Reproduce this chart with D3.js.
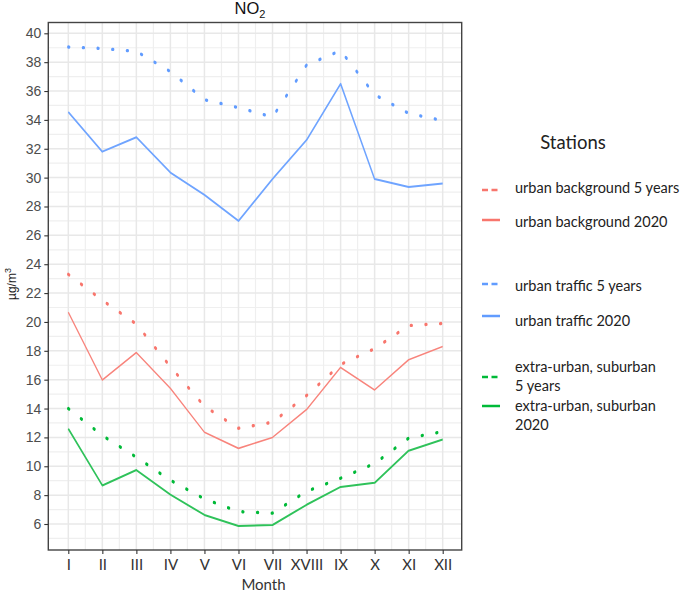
<!DOCTYPE html>
<html>
<head>
<meta charset="utf-8">
<script src="https://cdn.jsdelivr.net/npm/d3@7"></script>
<style>
  html, body { margin: 0; padding: 0; background: #fff; }
  svg { display: block; }
</style>
</head>
<body>
<svg id="chart" width="685" height="592"></svg>
<script>
// ---- data ----
const months = [1,2,3,4,5,6,7,8,9,10,11,12];
const monthLabels = ["I","II","III","IV","V","VI","VII","XVIII","IX","X","XI","XII"];
const yTicks = [6,8,10,12,14,16,18,20,22,24,26,28,30,32,34,36,38,40];

const urbanBackground5y   = [23.3, 21.5, 19.85, 16.9, 14.15, 12.63, 13.05, 14.9, 17.05, 18.15, 19.75, 19.9];
const urbanBackground2020 = [20.67, 15.98, 17.88, 15.4, 12.36, 11.24, 12.0, 13.93, 16.85, 15.29, 17.38, 18.3];
const urbanTraffic5y      = [39.05, 38.95, 38.75, 37.35, 35.4, 34.85, 34.2, 37.8, 38.8, 35.75, 34.45, 33.95];
const urbanTraffic2020    = [34.55, 31.8, 32.8, 30.35, 28.8, 27.0, 29.9, 32.6, 36.5, 29.9, 29.35, 29.6];
const extraUrban5y        = [14.0, 12.13, 10.63, 9.03, 7.74, 6.86, 6.75, 8.26, 9.17, 10.19, 11.95, 12.4];
const extraUrban2020      = [12.6, 8.67, 9.74, 8.03, 6.63, 5.86, 5.93, 7.33, 8.57, 8.85, 11.08, 11.85];

const seriesNames  = ["urban background 5 years","urban background 2020","urban traffic 5 years","urban traffic 2020","extra-urban, suburban 5 years","extra-urban, suburban 2020"];
const seriesValues = [urbanBackground5y, urbanBackground2020, urbanTraffic5y, urbanTraffic2020, extraUrban5y, extraUrban2020];
const seriesColors = ["#F8766D","#F8766D","#619CFF","#619CFF","#00BA38","#00BA38"];
const lineColors   = ["#F8766D","#F8847C","#619CFF","#6FA4FF","#00BA38","#2FC25A"];
const seriesDotted = [true,false,true,false,true,false];
const seriesWidth  = [3.3,1.6,3.3,2,3.3,2];

// ---- layout ----
const svg = d3.select("#chart");
const P = {left: 48.3, right: 461.7, top: 22.5, bottom: 550};
const SQ = 0.73; // horizontal squeeze of the original picture

const x = d3.scaleLinear().domain([1,12]).range([68.3, 442.7]);
const xWide = d3.scaleLinear().domain([1,12]).range([68.3/SQ, 442.7/SQ]);
const y = d3.scaleLinear().domain([6,40]).range([524, 33.3]);

// grid
const grid = svg.append("g");
const yMinor = d3.range(5, 41, 2);
const yMajor = d3.range(6, 41, 2);
const xMinor = d3.range(1.5, 12, 1);
grid.selectAll(".ym").data(yMinor).join("line")
  .attr("x1", P.left).attr("x2", P.right).attr("y1", d=>y(d)).attr("y2", d=>y(d))
  .attr("stroke", "#EFEFEF").attr("stroke-width", 1.2);
grid.selectAll(".xm").data(xMinor).join("line")
  .attr("y1", P.top).attr("y2", P.bottom).attr("x1", d=>x(d)).attr("x2", d=>x(d))
  .attr("stroke", "#EFEFEF").attr("stroke-width", 1.2);
grid.selectAll(".yM").data(yMajor).join("line")
  .attr("x1", P.left).attr("x2", P.right).attr("y1", d=>y(d)).attr("y2", d=>y(d))
  .attr("stroke", "#E8E8E8").attr("stroke-width", 1.5);
grid.selectAll(".xM").data(months).join("line")
  .attr("y1", P.top).attr("y2", P.bottom).attr("x1", d=>x(d)).attr("x2", d=>x(d))
  .attr("stroke", "#E8E8E8").attr("stroke-width", 1.5);

// lines
const lineG = svg.append("g").attr("transform", `scale(${SQ},1)`);
seriesValues.forEach((vals, i) => {
  const data = months.map((m, j) => [m, vals[j]]);
  const gen = d3.line().x(d => xWide(d[0])).y(d => y(d[1]));
  const p = lineG.append("path").datum(data)
    .attr("d", gen).attr("fill", "none")
    .attr("stroke", lineColors[i])
    .attr("stroke-width", seriesWidth[i])
    .attr("stroke-linejoin", "round");
  if (seriesDotted[i]) p.attr("stroke-dasharray", "1.2,18.9").attr("stroke-linecap", "round");
});

// panel border
svg.append("rect").attr("x", P.left).attr("y", P.top)
  .attr("width", P.right - P.left).attr("height", P.bottom - P.top)
  .attr("fill", "none").attr("stroke", "#444").attr("stroke-width", 1.4);

// axes
const yAxis = d3.axisLeft(y).tickValues(yTicks).tickSize(4).tickPadding(3);
const yg = svg.append("g").attr("transform", `translate(${P.left},0)`).call(yAxis);
yg.select(".domain").remove();
yg.selectAll(".tick line").attr("stroke", "#333").attr("stroke-width", 1.1);
yg.selectAll(".tick text").attr("fill", "#4D4D4D")
  .style("font-family", "'Liberation Sans', Arial, sans-serif").style("font-size", "14px");

const xAxis = d3.axisBottom(x).tickValues(months).tickFormat((d,i) => monthLabels[i]).tickSize(4).tickPadding(5);
const xg = svg.append("g").attr("transform", `translate(0,${P.bottom})`).call(xAxis);
xg.select(".domain").remove();
xg.selectAll(".tick line").attr("stroke", "#333").attr("stroke-width", 1.1);
xg.selectAll(".tick text").attr("fill", "#333")
  .style("font-family", "Lato, 'Open Sans', sans-serif").style("font-size", "15px");

// titles
const title = svg.append("text").attr("x", 250).attr("y", 14).attr("text-anchor", "middle")
  .style("font-family", "'Liberation Sans', Arial, sans-serif").style("font-size", "16.5px").attr("fill", "#111");
title.append("tspan").text("NO");
title.append("tspan").text("2").attr("dy", 4).style("font-size", "11px");

svg.append("text").attr("x", 263.5).attr("y", 590).attr("text-anchor", "middle")
  .style("font-family", "Lato, 'Open Sans', sans-serif").style("font-size", "15px").attr("fill", "#333")
  .text("Month");

const yt = svg.append("text").attr("transform", "translate(15.5,284) rotate(-90)").attr("text-anchor", "middle")
  .style("font-family", "'Liberation Sans', Arial, sans-serif").style("font-size", "12px").attr("fill", "#222");
yt.append("tspan").text("µg/m");
yt.append("tspan").text("3").attr("dy", -5).style("font-size", "9px");

// legend
const legend = svg.append("g");
legend.append("text").attr("x", 573).attr("y", 149).attr("text-anchor", "middle")
  .style("font-family", "Lato, 'Open Sans', sans-serif").style("font-size", "18.5px").attr("fill", "#222")
  .text("Stations");

const legKeyY  = [190, 220, 284, 316, 377, 406];
const legLines = [["urban background 5 years"],["urban background 2020"],["urban traffic 5 years"],["urban traffic 2020"],["extra-urban, suburban","5 years"],["extra-urban, suburban","2020"]];
const legTextY = [187.7, 221.7, 285.7, 321, 366.7, 406];
seriesNames.forEach((name, i) => {
  const k = legend.append("line").attr("x1", 482).attr("x2", 500)
    .attr("y1", legKeyY[i]).attr("y2", legKeyY[i])
    .attr("stroke", seriesColors[i]).attr("stroke-width", 2.5);
  if (seriesDotted[i]) k.attr("stroke-dasharray", "6,3.5");
  legLines[i].forEach((ln, j) => {
    legend.append("text").attr("x", 515).attr("y", legTextY[i] + j*19).attr("dy", "0.35em")
      .style("font-family", "Lato, 'Open Sans', sans-serif").style("font-size", "14.5px").attr("fill", "#222")
      .text(ln);
  });
});
</script>
</body>
</html>
